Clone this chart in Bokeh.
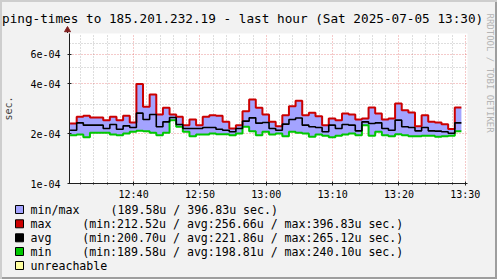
import math
from datetime import datetime, timedelta
from bokeh.plotting import figure
from bokeh.layouts import column, row
from bokeh.models import (FixedTicker, CustomJSTickFormatter, DatetimeTickFormatter, Range1d)
from bokeh.core.properties import value
from bokeh.embed import file_html
from bokeh.resources import INLINE

# ---------------- data (microseconds) ----------------
max_us = [230, 252, 255.5, 249.6, 249.6, 240.6, 252, 240.6, 255.5, 233,
          396.83, 289.5, 343.4, 260, 285.5, 260, 252, 224.5, 242.8, 224.5,
          252, 257.9, 255.5, 235, 214, 224.5, 272.6, 320.4, 285.5, 260,
          235, 221.4, 257.9, 292.2, 314.6, 257.9, 266.4, 254.4, 224.5, 246.2,
          240.6, 263.9, 260, 242.8, 246.2, 286.8, 263.9, 242.8, 246.2, 303.1,
          276.4, 267.6, 221.4, 257.9, 235, 233, 227.7, 212.52, 286.8]
avg_us = [209.4, 231.8, 224.5, 224.5, 224.5, 214.4, 226.6, 212.3, 222.4, 217.4,
          265.12, 242.8, 260, 219.4, 235, 249.6, 226.6, 214.4, 214.4, 214.4,
          217.4, 217.4, 212.3, 209.4, 204.7, 214.4, 237.3, 248.5, 230.8, 233,
          214.4, 209.4, 227.7, 242.8, 248, 224.5, 219.4, 217.4, 204.7, 224.5,
          214.4, 226.6, 224.5, 207.5, 235, 229.7, 231.8, 214.4, 209.4, 240.6,
          219.4, 217.4, 207.5, 217.4, 207.5, 206.6, 204.7, 200.7, 231.8]
min_us = [195.4, 197.2, 189.58, 201.9, 201.9, 201.9, 197.2, 195.4, 200, 204.7,
          208, 206.6, 201.9, 195.4, 201.9, 240.1, 219.4, 204.7, 192.7, 197.2,
          197.2, 200, 198.2, 198.2, 195.4, 200, 219.4, 206.6, 195.4, 204.7,
          197.2, 200, 192.7, 204.7, 201.9, 200, 191, 197.2, 193.6, 190.1,
          193.6, 197.2, 200, 195.4, 224.5, 193.6, 204.7, 195.4, 192.7, 198.2,
          195.4, 192.7, 192.7, 193.6, 193.6, 191, 192.7, 193.6, 206.6]

first_step = datetime(2025, 7, 5, 12, 30, 25)
step_len = timedelta(minutes=1)
view_start = datetime(2025, 7, 5, 12, 30, 20)
view_end = datetime(2025, 7, 5, 13, 30, 20)

y_ticks = [1e-4, 2e-4, 4e-4, 6e-4]
y_minor = [3e-4, 5e-4, 7e-4, 8e-4]
x_major = [datetime(2025, 7, 5, 12, 40) + timedelta(minutes=10 * i) for i in range(6)]
x_minor = [datetime(2025, 7, 5, 12, 32) + timedelta(minutes=2 * i) for i in range(30)]

title_text = "ping-times to 185.201.232.19 - last hour (Sat 2025-07-05 13:30)"
unit_text = "sec."
watermark = "RRDTOOL / TOBI OETIKER"
legend_names = ["min/max", "max", "avg", "min", "unreachable"]
legend_stats = ["(189.58u / 396.83u sec.)",
                "(min:212.52u / avg:256.66u / max:396.83u sec.)",
                "(min:200.70u / avg:221.86u / max:265.12u sec.)",
                "(min:189.58u / avg:198.81u / max:240.10u sec.)"]
legend_colors = ["#a3a3ff", "#cc0000", "#000000", "#00c800", "#ffffa0"]

# ---------------- derived ----------------
n = len(max_us)
times = [first_step + i * step_len for i in range(n)]
times_ext = times + [times[-1] + step_len]
max_s = [v * 1e-6 for v in max_us]
avg_s = [v * 1e-6 for v in avg_us]
min_s = [v * 1e-6 for v in min_us]
ext = lambda a: a + [a[-1]]

def ms(dt):
    return (dt - datetime(1970, 1, 1)).total_seconds() * 1000.0

MONO = "DejaVu Sans Mono"
AXIS_C = "#1f1f1f"
TOTAL_W, TOTAL_H = 497, 279
TOP_H = 33            # title strip
MID_H = 170           # main plot strip
BOT_H = TOTAL_H - TOP_H - MID_H
LEFT_W = 484          # title + plot column width
L, FW, FH = 67, 400, 150


def blank(w, h, x0, x1, y0, y1):
    """figure whose data coordinates equal canvas pixels (y downward)"""
    f = figure(width=w, height=h, x_range=Range1d(x0, x1), y_range=Range1d(y1, y0),
               toolbar_location=None, output_backend="svg", min_border=0,
               x_axis_location=None, y_axis_location=None)
    f.grid.visible = False
    f.outline_line_color = None
    f.background_fill_color = None
    f.border_fill_color = None
    return f

# ---------------- main plot ----------------
p = figure(width=LEFT_W, height=MID_H, x_axis_type="datetime", y_axis_type="log",
           x_range=(view_start, view_end), y_range=(1e-4, 8e-4),
           toolbar_location=None, output_backend="svg",
           min_border_left=L, min_border_right=LEFT_W - L - FW,
           min_border_top=0, min_border_bottom=MID_H - FH)
p.background_fill_color = "#ffffff"
p.border_fill_color = None
p.outline_line_color = None

for ax in (p.xaxis[0], p.yaxis[0]):
    ax.axis_line_color = AXIS_C
    ax.major_tick_line_color = AXIS_C
    ax.minor_tick_line_color = AXIS_C
    ax.major_label_text_font = MONO
    ax.major_label_text_font_size = "10px"
    ax.major_label_text_color = "#000000"
    ax.major_tick_in = 2
    ax.major_tick_out = 2

p.yaxis.ticker = FixedTicker(ticks=y_ticks, minor_ticks=y_minor)
p.yaxis.minor_tick_line_color = None
p.yaxis.major_label_standoff = 5
p.yaxis.axis_label = unit_text
p.yaxis.axis_label_text_font = MONO
p.yaxis.axis_label_text_font_size = "10px"
p.yaxis.axis_label_text_font_style = "normal"
p.yaxis.axis_label_standoff = 13
p.yaxis.formatter = CustomJSTickFormatter(code="""
const e = Math.floor(Math.log10(tick) + 1e-9);
const m = Math.round(tick / Math.pow(10, e));
return m + 'e-' + String(-e).padStart(2, '0');
""")
p.xaxis.ticker = FixedTicker(ticks=[ms(t) for t in x_major],
                             minor_ticks=[ms(t) for t in x_minor if t not in x_major])
p.xaxis.minor_tick_in = 1
p.xaxis.minor_tick_out = 1
p.xaxis.major_label_standoff = 3
fmt = "%H:%M"
p.xaxis.formatter = DatetimeTickFormatter(microseconds=fmt, milliseconds=fmt, seconds=fmt,
                                          minsec=fmt, minutes=fmt, hourmin=fmt, hours=fmt,
                                          days=fmt, months=fmt, years=fmt)

for g, tk in ((p.xgrid[0], p.xaxis.ticker), (p.ygrid[0], p.yaxis.ticker)):
    g.ticker = tk
    g.grid_line_color = "#de4f4f"
    g.grid_line_alpha = 0.6
    g.grid_line_dash = "1 2"
    g.minor_grid_line_color = "#8f8f8f"
    g.minor_grid_line_alpha = 0.6
    g.minor_grid_line_dash = "1 2"

p.varea_step(x=times_ext, y1=ext(min_s), y2=ext(max_s), step_mode="after",
             fill_color=legend_colors[0])
p.step(x=times_ext, y=ext(max_s), mode="after", line_color=legend_colors[1], line_width=2)
p.step(x=times_ext, y=ext(min_s), mode="after", line_color=legend_colors[3], line_width=2)
p.step(x=times_ext, y=ext(avg_s), mode="after", line_color=legend_colors[2], line_width=1.6)

# ---------------- title strip ----------------
t = blank(LEFT_W, TOP_H, 0, LEFT_W, 0, TOP_H)
t.text(x=[1.5], y=[17.7], text=[title_text], text_font=value(MONO), text_font_size="12.7px",
       text_align="left", text_baseline="alphabetic", text_color="#000000")
# y-axis extension with arrow head
t.segment(x0=[L], y0=[TOP_H], x1=[L], y1=[29], line_color=AXIS_C, line_width=1)
t.scatter(x=[L], y=[29.5], marker="triangle", size=6, fill_color="#801f1f",
          line_color="#801f1f")

# ---------------- watermark strip (right of title and plot) ----------------
w = blank(TOTAL_W - LEFT_W, TOP_H + MID_H, LEFT_W, TOTAL_W, 0, TOP_H + MID_H)
w.text(x=[489], y=[13], text=[watermark], text_font=value(MONO), text_font_size="9px",
       angle=-math.pi / 2, text_align="left", text_baseline="middle", text_color="#b4b4b4")

# ---------------- legend strip ----------------
lg = blank(TOTAL_W, BOT_H, 0, TOTAL_W, TOP_H + MID_H, TOTAL_H)
row_y = [209, 223.3, 237.3, 251, 265]
lg.quad(left=[15] * 5, right=[23] * 5, top=[y - 4 for y in row_y], bottom=[y + 4 for y in row_y],
        fill_color=legend_colors, line_color="#000000", line_width=1)
lg.text(x=[30] * 5, y=row_y, text=legend_names, text_font=value(MONO), text_font_size="11.6px",
        text_baseline="middle", text_color="#000000")
lg.text(x=[110, 81.7, 81.7, 81.7], y=row_y[:4], text=legend_stats, text_font=value(MONO),
        text_font_size="11.6px", text_baseline="middle", text_color="#000000")

# wrap the main plot in its own row so its frame is not aligned with the strips
left_col = column(t, row(p, spacing=0), spacing=0)
layout = column(row(left_col, w, spacing=0), lg, spacing=0)
layout.styles = {"background-color": "#f2f2f2",
                 "box-shadow": "inset 2px 2px 0px #cecece, inset -2px -2px 0px #9e9e9e"}

open("out.html", "w").write(file_html(layout, INLINE))
